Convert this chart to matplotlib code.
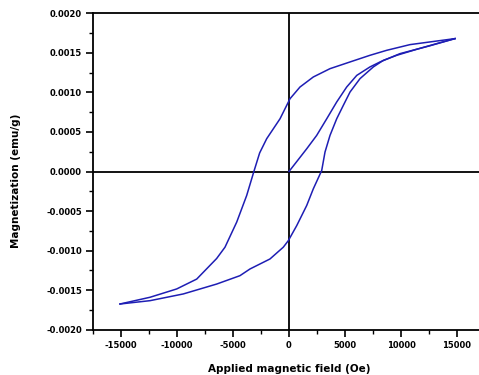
import matplotlib
matplotlib.use("Agg")
import matplotlib.pyplot as plt
from matplotlib.ticker import MultipleLocator

plt.rcParams['font.family'] = ['DejaVu Sans']

# descending branch (+H -> -H)
h_down = [14820, 12590, 10800, 8720, 7230, 5450, 3660, 2170, 980, 90, -800,
          -1990, -2620, -3125, -3780, -4670, -5715, -6460, -8240, -10030,
          -12410, -15090]
m_down = [0.00168, 0.001638, 0.001604, 0.001532, 0.001469, 0.001385, 0.0013,
          0.001195, 0.001068, 0.00092, 0.000667, 0.000415, 0.000235, 0.000005,
          -0.000304, -0.00064, -0.000957, -0.0011, -0.00136, -0.001485,
          -0.00159, -0.001675]

# ascending branch (-H -> +H)
h_up = [-15090, -12410, -9440, -6460, -4380, -3480, -1700, -510, -60, 690,
        1580, 2170, 2920, 3215, 3660, 4260, 4850, 5450, 6340, 7530, 8420,
        9620, 11400, 13190, 14820]
m_up = [-0.001675, -0.001633, -0.001548, -0.001423, -0.001317, -0.001232,
        -0.001106, -0.000957, -0.000874, -0.000684, -0.00043, -0.000219,
        0.0000127, 0.000246, 0.000456, 0.000667, 0.000836, 0.001005, 0.001174,
        0.001322, 0.001405, 0.001469, 0.001545, 0.001617, 0.00168]

# initial magnetization curve
h_init = [0, 1580, 2470, 3370, 4260, 5150, 6050, 7230, 8130, 9910, 12590, 14820]
m_init = [0, 0.000287, 0.000456, 0.000667, 0.000879, 0.001068, 0.001215,
          0.001322, 0.001385, 0.00149, 0.00159, 0.00168]

x_ticks = [-15000, -10000, -5000, 0, 5000, 10000, 15000]
y_ticks = [-0.0020, -0.0015, -0.0010, -0.0005, 0.0000, 0.0005, 0.0010,
           0.0015, 0.0020]

fig = plt.figure(figsize=(4.79, 3.75), dpi=100)
ax = fig.add_axes([93 / 479, 1 - 329.7 / 375, 392 / 479, 316.4 / 375])

line_color = "#1e1eb4"
ax.plot(h_down, m_down, color=line_color, lw=1.1)
ax.plot(h_up, m_up, color=line_color, lw=1.1)
ax.plot(h_init, m_init, color=line_color, lw=1.1)

ax.axhline(0, color="black", lw=1.3, zorder=1)
ax.axvline(0, color="black", lw=1.3, zorder=1)

ax.set_xlim(-17500, 17500)
ax.set_ylim(-0.002, 0.002)
ax.set_xticks(x_ticks)
ax.set_yticks(y_ticks)
ax.set_xticklabels([str(t) for t in x_ticks])
ax.set_yticklabels(["%.4f" % t for t in y_ticks])
ax.xaxis.set_minor_locator(MultipleLocator(2500))
ax.yaxis.set_minor_locator(MultipleLocator(0.00025))

for s in ["left", "bottom", "top"]:
    ax.spines[s].set_linewidth(1.3)
ax.spines["right"].set_visible(False)

ax.tick_params(which="major", direction="out", length=5, width=1.2,
               labelsize=6, pad=3)
ax.tick_params(which="minor", direction="out", length=3, width=1.0)
for lab in ax.get_xticklabels() + ax.get_yticklabels():
    lab.set_fontweight("bold")

ax.set_xlabel("Applied magnetic field (Oe)", fontsize=7.5, fontweight="bold",
              labelpad=10)
ax.set_ylabel("Magnetization (emu/g)", fontsize=7.5, fontweight="bold")
ax.yaxis.set_label_coords(-0.184, 0.47)

fig.savefig("out.png", dpi=100)
